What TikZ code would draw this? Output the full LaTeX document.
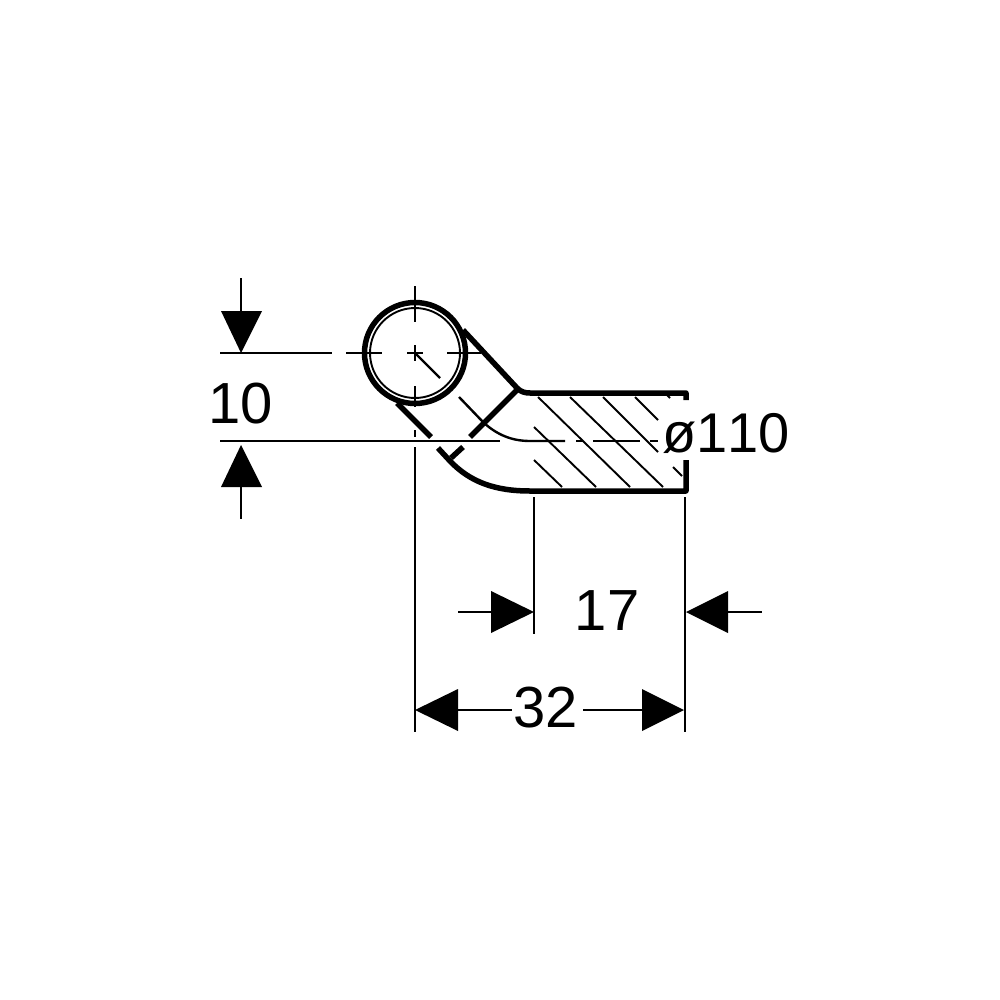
\documentclass[tikz,border=0pt]{standalone}
\usepackage{fontspec}
\setmainfont{Liberation Sans}
\tikzset{
 thick line/.style={line width=5.5pt,line cap=butt,line join=round},
 thin line/.style={line width=2.4pt},
 hatch line/.style={line width=1.9pt},
 dimarrow/.style={fill=black,draw=none},
 dimtext/.style={font=\fontsize{58}{58}\selectfont,inner sep=0pt,anchor=base}
}
\begin{document}
\begin{tikzpicture}[x=1pt,y=-1pt]
\useasboundingbox (0,0) rectangle (1000,1000);
% body
\coordinate (c) at (415,353);
\draw[thick line] (c) circle[radius=50.5];
\draw[hatch line] (c) circle[radius=45];
\draw[thick line] (463,330) -- (517,388) .. controls (521,392) and (525,393) .. (530,393) -- (686,393) -- (686,400);
\draw[thick line] (686,460) -- (686,491) -- (530,491) .. controls (495,491) and (470,482) .. (450,461) -- (438,448);
\draw[thick line] (397,403) -- (431,437);
\draw[thick line] (518,389) -- (470,437);
\draw[thick line] (463,447) -- (451,458);
% thin inner bend and centre line
\draw[thin line] (459,397) -- (483,422) .. controls (497,435) and (512,441) .. (530,441) -- (565,441);
\draw[thin line] (576,441) -- (583,441);
\draw[thin line] (593,441) -- (640,441);
\draw[thin line] (650,441) -- (658,441);
% hatching
\foreach \a/\b/\p/\q in {538/397/630/487,570/397/663/487,603/397/658/452,635/397/658/420,667/395/670/398,534/427/596/487,534/460/562/487,673/467/682/476}
  \draw[hatch line] (\a,\b) -- (\p,\q);
% circle centre lines
\draw[thin line] (415,286) -- (415,322);
\draw[thin line] (415,345) -- (415,361);
\draw[thin line] (415,386) -- (415,407);
\draw[thin line] (415,430) -- (415,437);
\draw[thin line] (346,353) -- (382,353);
\draw[thin line] (407,353) -- (423,353);
\draw[thin line] (447,353) -- (481,353);
\draw[thin line] (415,353) -- (440,378);
% dimension 10
\coordinate (ta) at (241,278); \coordinate (tb) at (241,312);
\coordinate (ba) at (241,486); \coordinate (bb) at (241,519);
\draw[thin line] (220,353) -- (332,353);
\draw[thin line] (220,441) -- (500,441);
\draw[thin line] (ta) -- (tb);
\draw[thin line] (ba) -- (bb);
\fill[dimarrow] (221,311) -- (262,311) -- (241,353) -- cycle;
\fill[dimarrow] (221,487) -- (262,487) -- (241,445) -- cycle;
\node[dimtext] (t10) at (240.5,423) {10};
% extension lines
\coordinate (e1) at (415,447); \coordinate (e1b) at (415,732);
\coordinate (e2) at (534,497); \coordinate (e2b) at (534,634);
\coordinate (e3) at (685,497); \coordinate (e3b) at (685,732);
\draw[thin line] (e1) -- (e1b);
\draw[thin line] (e2) -- (e2b);
\draw[thin line] (e3) -- (e3b);
% dimension 17
\node[dimtext] (t17) at (607,630) {17};
\coordinate (l1) at (458,612); \coordinate (l2) at (492,612);
\coordinate (r1) at (728,612); \coordinate (r2) at (762,612);
\draw[thin line] (l1) -- (l2);
\draw[thin line] (r1) -- (r2);
\fill[dimarrow] (491,591) -- (491,633) -- (534,612) -- cycle;
\fill[dimarrow] (728,591) -- (728,633) -- (686,612) -- cycle;
% dimension 32
\node[dimtext] (t32) at (545.5,727) {32};
\coordinate (d1) at (458,710); \coordinate (d2) at (642,710);
\draw[thin line] (d1) -- (512,710);
\draw[thin line] (583,710) -- (d2);
\fill[dimarrow] (458,689) -- (458,731) -- (415,710) -- cycle;
\fill[dimarrow] (642,689) -- (642,731) -- (684,710) -- cycle;
% diameter
\node[dimtext,font=\fontsize{56}{56}\selectfont\addfontfeature{Kerning=Off}] (t110) at (726,452) {ø110};
\end{tikzpicture}
\end{document}
